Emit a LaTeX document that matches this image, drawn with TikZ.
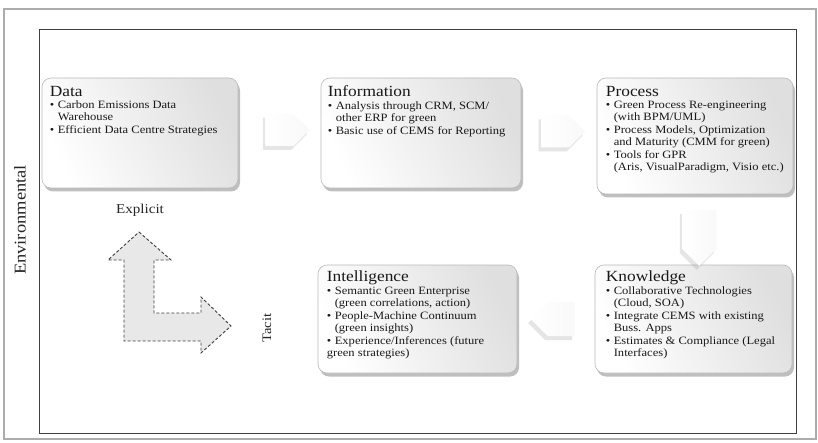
\documentclass[tikz,border=0pt]{standalone}
\usepackage{fontspec}
\setmainfont{Liberation Serif}[FakeStretch=1.12]
\usetikzlibrary{shapes.symbols,shadows,calc}
\newcommand\bul{\textbullet\hspace{3.5pt}}
\newcommand\ind{\hphantom{\textbullet}\hspace{3.5pt}}
\newcommand\ttl[1]{{\fontsize{15.5}{17}\selectfont\color{black!90}#1}}
\begin{document}
\begin{tikzpicture}[x=1pt,y=1pt,
  frameout/.style={draw=gray!65, line width=1.3pt},
  framein/.style={draw=black!75, line width=1pt},
  box/.style={draw=gray!55, line width=0.6pt, rounded corners=9pt,
    left color=white, right color=gray!25, shading angle=115,
    drop shadow={shadow xshift=2pt, shadow yshift=-3.5pt, opacity=0.5},
    inner sep=0pt},
  txt/.style={anchor=north west, align=left, inner sep=0pt, text=black!90,
    font=\fontsize{11.2}{11.9}\selectfont},
  chev/.style={signal, draw=none, left color=white, right color=gray!5,
    drop shadow={shadow xshift=-2.5pt, shadow yshift=-4pt, opacity=0.25, fill=gray!80}},
  lbl/.style={text=black!85, inner sep=0pt},
  lshape/.style={draw=black!75, line width=0.9pt, fill=gray!18, dash pattern=on 3pt off 2pt}
]
\useasboundingbox (0,0) rectangle (818,442);
\fill[white] (0,0) rectangle (818,442);
% frames
\draw[frameout] (4,3) rectangle (816,433);
\draw[framein] (39,9) rectangle (796,412);
\node[lbl, rotate=90, font=\fontsize{16.5}{18}\selectfont] (env) at (20,222) {Environmental};

% boxes
\node[box, minimum width=196pt, minimum height=110pt] (data) at (140,309) {};
\node[box, minimum width=200pt, minimum height=110pt] (info) at (421,309) {};
\node[box, minimum width=196pt, minimum height=116pt] (proc) at (695,306) {};
\node[box, minimum width=197pt, minimum height=108pt] (know) at (693.5,123) {};
\node[box, minimum width=199pt, minimum height=108pt] (intel) at (417.5,123) {};

% texts
\node[txt] (datat) at ($(data.north west)+(8,-8)$)
  {\ttl{Data}\\[1pt]
   \bul Carbon Emissions Data\\ \ind Warehouse\\[1pt]
   \bul Efficient Data Centre Strategies};
\node[txt] (infot) at ($(info.north west)+(7,-8)$)
  {\ttl{Information}\\[1pt]
   \bul Analysis through CRM, SCM/\\ \ind other ERP for green\\[1pt]
   \bul Basic use of CEMS for Reporting};
\node[txt] (proct) at ($(proc.north west)+(9,-8)$)
  {\ttl{Process}\\[1pt]
   \bul Green Process Re-engineering\\ \ind (with BPM/UML)\\[1pt]
   \bul Process Models, Optimization\\ \ind and Maturity (CMM for green)\\[1pt]
   \bul Tools for GPR\\ \ind (Aris, VisualParadigm, Visio etc.)};
\node[txt] (knowt) at ($(know.north west)+(11,-6)$)
  {\ttl{Knowledge}\\[1pt]
   \bul Collaborative Technologies\\ \ind (Cloud, SOA)\\[1pt]
   \bul Integrate CEMS with existing\\ \ind Buss. Apps\\[1pt]
   \bul Estimates \& Compliance (Legal\\ \ind Interfaces)};
\node[txt] (intelt) at ($(intel.north west)+(9,-6)$)
  {\ttl{Intelligence}\\[1pt]
   \bul Semantic Green Enterprise\\ \ind (green correlations, action)\\[1pt]
   \bul People-Machine Continuum\\ \ind (green insights)\\[1pt]
   \bul Experience/Inferences (future\\ green strategies)};

% chevron connectors
\node[chev, signal to=east, minimum width=44pt, minimum height=32pt] (a1) at ($(data.east)!0.5!(info.west)+(0,3)$) {};
\node[chev, signal to=east, minimum width=44pt, minimum height=32pt] (a2) at ($(info.east)!0.45!(proc.west)+(0,3)$) {};
\node[chev, signal to=south, minimum width=34pt, minimum height=42pt] (a3) at ($(proc.south)!0.5!(know.north)+(5,0)$) {};
\node[chev, signal to=west, minimum width=44pt, minimum height=34pt] (a4) at ($(know.west)!0.5!(intel.east)+(5,0)$) {};

% explicit / tacit
\node[lbl, font=\fontsize{13.5}{15}\selectfont] (expl) at (140,232) {Explicit};
\node[lbl, rotate=90, font=\fontsize{13}{15}\selectfont] (tacit) at (267,114) {Tacit};
\draw[lshape] (139,210) -- (171,182) -- (154,182) -- (154,129) -- (201,129) -- (201,145)
  -- (231,116) -- (201,89) -- (201,101) -- (124,101) -- (124,182) -- (108,182) -- cycle;
\end{tikzpicture}
\end{document}
